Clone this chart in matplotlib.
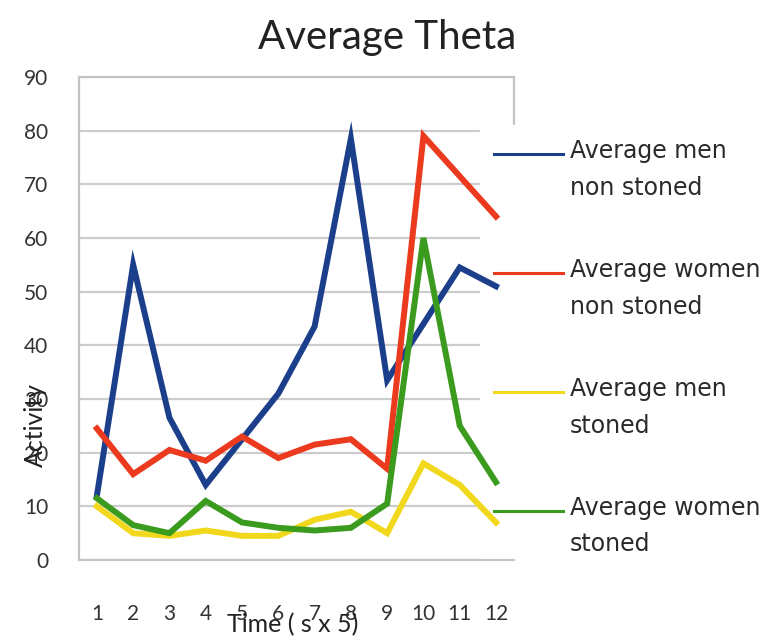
import matplotlib.pyplot as plt
from matplotlib.lines import Line2D
from matplotlib.legend_handler import HandlerLine2D

# time steps (s x 5)
t = [1, 2, 3, 4, 5, 6, 7, 8, 9, 10, 11, 12]

men_non_stoned = [12, 55, 26.5, 14, 22.5, 31, 43.5, 78.5, 33.5, 44, 54.5, 51]
women_non_stoned = [24.5, 16, 20.5, 18.5, 23, 19, 21.5, 22.5, 17, 79, 71.5, 64]
men_stoned = [10, 5, 4.5, 5.5, 4.5, 4.5, 7.5, 9, 5, 18, 14, 7]
women_stoned = [11.5, 6.5, 5, 11, 7, 6, 5.5, 6, 10.5, 60, 25, 14.5]

labels = ["Average men\nnon stoned", "Average women\nnon stoned",
          "Average men\nstoned", "Average women\nstoned"]
colors = ["#1c3f8c", "#eb3a1e", "#f2d81c", "#3b9b1f"]


class TopLineHandler(HandlerLine2D):
    # puts the legend line level with the first row of a two-row label
    def __init__(self, lift=0, **kw):
        super().__init__(**kw)
        self.lift = lift

    def create_artists(self, legend, orig_handle, xdescent, ydescent,
                       width, height, fontsize, trans):
        return super().create_artists(legend, orig_handle, xdescent,
                                      ydescent - 2 * self.lift, width, height,
                                      fontsize, trans)


fig = plt.figure(figsize=(7.72, 6.39), dpi=100)
ax = fig.add_axes([0.102, 0.1236, 0.564, 0.756])

for ys, lab, c in zip([men_non_stoned, women_non_stoned, men_stoned, women_stoned], labels, colors):
    ax.plot(t, ys, color=c, linewidth=4.3, label=lab, solid_joinstyle='miter', zorder=2)

ax.set_xlim(0.5, 12.5)
ax.set_ylim(0, 90)
ax.set_xticks(t)
ax.set_yticks(range(0, 91, 10))
ax.tick_params(length=0, labelsize=15, labelcolor='#333333')
ax.tick_params(axis='y', pad=22)
ax.tick_params(axis='x', pad=32)
for lbl in ax.get_xticklabels() + ax.get_yticklabels():
    lbl.set_fontfamily('Lato')

ax.grid(axis='y', color='#cccccc', linewidth=1.6)
ax.set_axisbelow('line')
for s in ax.spines.values():
    s.set_color('#c4c4c4')
    s.set_linewidth(1.6)
ax.spines['right'].set_zorder(1.6)

fig.text(0.502, 0.941, "Average Theta", fontsize=29, fontfamily='Lato',
         color='#222222', ha='center', va='center')
ax.set_xlabel("Time ( s x 5)", fontsize=18, fontfamily='Lato', color='#222222')
ax.xaxis.set_label_coords(0.491, -0.11)
ax.set_ylabel("Activity", fontsize=18, fontfamily='Lato', color='#222222')
ax.yaxis.set_label_coords(-0.073, 0.28)

leg = ax.legend(loc='upper left', bbox_to_anchor=(0.622, 0.804), bbox_transform=fig.transFigure,
                frameon=True, fancybox=False, framealpha=1, edgecolor='white',
                labelspacing=2.48, handlelength=2.9, handletextpad=0.3,
                borderpad=0.6, borderaxespad=0,
                handler_map={Line2D: TopLineHandler(lift=12.0)},
                prop={'family': 'DejaVu Sans', 'size': 17})
for line in leg.get_lines():
    line.set_linewidth(2.2)
for txt in leg.get_texts():
    txt.set_color('#2a2a2a')
    txt.set_linespacing(1.65)
leg.set_zorder(1.7)

fig.savefig("out.png", dpi=100, facecolor='white')
